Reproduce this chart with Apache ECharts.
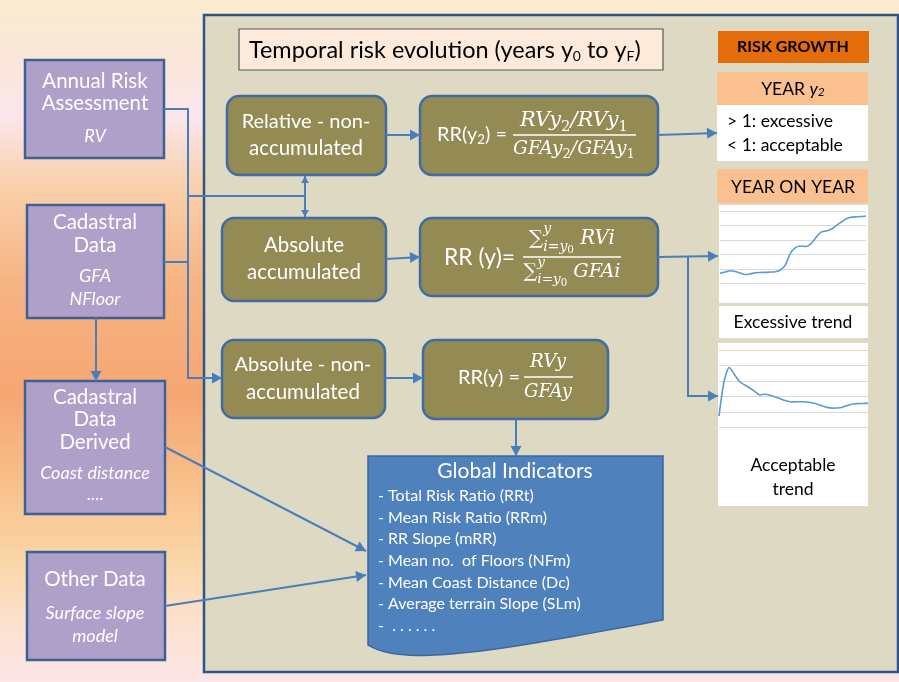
<!DOCTYPE html>
<html>
<head>
<meta charset="utf-8">
<script src="https://cdn.jsdelivr.net/npm/echarts@6/dist/echarts.min.js"></script>
<style>html,body{margin:0;padding:0;overflow:hidden;background:#fff}#chart{width:899px;height:682px}</style>
</head>
<body>
<div id="chart"></div>
<script>
// data (30 steps, gridlines at 1..6)
const steps = ['1','2','3','4','5','6','7','8','9','10','11','12','13','14','15','16','17','18','19','20','21','22','23','24','25','26','27','28','29','30']
const excessiveTrend = [1.70,1.79,1.88,1.83,1.72,1.62,1.66,1.74,1.76,1.77,1.79,1.81,1.93,2.28,3.10,3.48,3.59,3.55,3.72,4.14,4.53,4.62,4.72,4.97,5.21,5.45,5.57,5.60,5.62,5.66]
const acceptableTrend = [1.74,4.00,4.87,4.42,3.97,3.74,3.55,3.32,3.10,3.15,3.08,2.97,2.84,2.72,2.65,2.66,2.66,2.65,2.60,2.52,2.40,2.30,2.25,2.26,2.31,2.42,2.52,2.54,2.55,2.56]
const indicators = ['- Total Risk Ratio (RRt)', '- Mean Risk Ratio (RRm)', '- RR Slope (mRR)', '- Mean no.  of Floors (NFm)', '- Mean Coast Distance (Dc)', '- Average terrain Slope (SLm)', '-  . . . . . .']

const SANS = 'Lato, "Open Sans", sans-serif'
const SERIF = '"DejaVu Serif", serif'
const LINE = '#4A7EBB'
const BORDER = '#3C6195'

const mctx = document.createElement('canvas').getContext('2d')
const tw = (t, size, fam, it, b) => {
    mctx.font = (it ? 'italic ' : '') + (b ? 'bold ' : '') + size + 'px ' + fam
    return mctx.measureText(t).width
}

// lay runs of text side by side (for sub/superscripts)
function layout(runs, k, fam0) {
    let cx = 0, end = 0
    const out = []
    runs.forEach(r => {
        const size = (r.s || 18) * k, fam = r.f || fam0
        const w = tw(r.t, size, fam, r.i, r.b)
        out.push({ r, x: cx, size, fam })
        if (r.stay) end = Math.max(end, cx + w)
        else { cx += w; end = Math.max(end, cx) }
    })
    return { out, width: end }
}
function inline(x, y, runs, o) {
    o = o || {}
    const fam0 = o.f || SANS
    let L = layout(runs, 1, fam0)
    const k = o.w ? o.w / L.width : 1
    if (o.w) L = layout(runs, k, fam0)
    const x0 = o.align === 'center' ? x - L.width / 2 : x
    return L.out.map(p => ({
        type: 'text', z: 50,
        style: {
            text: p.r.t, x: x0 + p.x, y: y + (p.r.dy || 0) * k, fill: o.c || '#fff',
            font: (p.r.i ? 'italic ' : '') + (p.r.b ? 'bold ' : '') + p.size.toFixed(2) + 'px ' + p.fam,
            textAlign: 'left', textVerticalAlign: 'middle', align: 'left', verticalAlign: 'middle'
        }
    }))
}
function txt(x, y, t, size, o) {
    o = o || {}
    return {
        type: 'text', z: 50,
        style: {
            text: t, x, y, fill: o.c || '#fff',
            font: (o.i ? 'italic ' : '') + (o.b ? 'bold ' : '') + size + 'px ' + (o.f || SANS),
            textAlign: o.align || 'center', textVerticalAlign: 'middle', align: o.align || 'center', verticalAlign: 'middle'
        }
    }
}
function box(x, y, w, h, fill, o) {
    o = o || {}
    return {
        type: 'rect', z: o.z || 5,
        shape: { x, y, width: w, height: h, r: o.r || 0 },
        style: { fill, stroke: o.stroke || null, lineWidth: o.lw || 0 }
    }
}
function arrow(pts, o) {
    o = o || {}
    const hs = o.hs || 10
    const els = [{ type: 'polyline', z: 20, shape: { points: pts }, style: { stroke: LINE, lineWidth: 2, fill: null } }]
    const head = (a, b) => {
        const dx = b[0] - a[0], dy = b[1] - a[1], len = Math.hypot(dx, dy), ux = dx / len, uy = dy / len
        const bx = b[0] - ux * hs, by = b[1] - uy * hs, hw = hs * 0.55
        els.push({ type: 'polygon', z: 21, shape: { points: [b, [bx - uy * hw, by + ux * hw], [bx + uy * hw, by - ux * hw]] }, style: { fill: LINE } })
    }
    if (o.end !== false) head(pts[pts.length - 2], pts[pts.length - 1])
    if (o.start) head(pts[1], pts[0])
    return els
}
// document shape: flat top, wavy bottom
function docShape(x1, y1, x2, yR, yL) {
    const pts = [[x1, y1], [x2, y1], [x2, yR]]
    const p0 = [x2, yR], c1 = [500, yR + 30], c2 = [405, yL + 23], p3 = [x1, yL]
    for (let i = 1; i <= 24; i++) {
        const t = i / 24, u = 1 - t
        pts.push([
            u * u * u * p0[0] + 3 * u * u * t * c1[0] + 3 * u * t * t * c2[0] + t * t * t * p3[0],
            u * u * u * p0[1] + 3 * u * u * t * c1[1] + 3 * u * t * t * c2[1] + t * t * t * p3[1]
        ])
    }
    return { type: 'polygon', z: 5, shape: { points: pts }, style: { fill: '#4F81BD', stroke: '#3A679E', lineWidth: 1.5 } }
}

const purple = (x, y, w, h) => box(x, y, w, h, '#AFA0C9', { stroke: BORDER, lw: 2.5 })
const olive = (x, y, w, h) => box(x, y, w, h, '#948A54', { stroke: '#3E6CA3', lw: 2.5, r: 12 })

const elements = [
    {
        type: 'rect', z: -100, shape: { x: 0, y: 0, width: 899, height: 682 },
        style: {
            fill: {
                type: 'linear', x: 0, y: 0, x2: 0, y2: 1,
                colorStops: [
                    { offset: 0, color: '#FBEBCF' }, { offset: 0.1, color: '#FAE6DA' },
                    { offset: 0.17, color: '#FAE6EC' }, { offset: 0.27, color: '#F9D1AC' },
                    { offset: 0.42, color: '#F7B382' }, { offset: 0.58, color: '#F6A673' },
                    { offset: 0.7, color: '#F8BE88' }, { offset: 0.82, color: '#FAD6A6' },
                    { offset: 0.92, color: '#FCE2D0' }, { offset: 1, color: '#FCE5E6' }
                ]
            }
        }
    },
    box(204, 15, 694, 657, '#DDD9C3', { stroke: '#2F5587', lw: 2.5, z: -50 }),
    box(239, 29, 424, 41, '#FDEADA', { stroke: '#595959', lw: 1.2 }),
    ...inline(249, 50, [
        { t: 'Temporal risk evolution (years y', s: 22 },
        { t: '0', s: 13, dy: 6 },
        { t: ' to y', s: 22 },
        { t: 'F', s: 13, dy: 6 },
        { t: ')', s: 22 }
    ], { c: '#000', w: 392 }),

    // input boxes
    purple(25, 60, 139, 98),
    txt(95, 81, 'Annual Risk', 20.5), txt(95, 103, 'Assessment', 20.5), txt(95, 136, 'RV', 18, { i: true }),
    purple(27, 205, 137, 113),
    txt(95, 222, 'Cadastral', 20.5), txt(95, 245, 'Data', 20.5), txt(95, 276, 'GFA', 18, { i: true }), txt(95, 299, 'NFloor', 18, { i: true }),
    purple(25, 381, 140, 133),
    txt(95, 397, 'Cadastral', 20.5), txt(95, 419, 'Data', 20.5), txt(95, 442, 'Derived', 20.5),
    txt(95, 473, 'Coast distance', 18, { i: true }), txt(95, 494, '....', 18),
    purple(27, 552, 138, 108),
    txt(95, 579, 'Other Data', 20.5), txt(95, 613, 'Surface slope', 18, { i: true }), txt(95, 636, 'model', 18, { i: true }),

    // method boxes
    olive(227, 96, 159, 79),
    txt(306, 122, 'Relative - non-', 20), txt(306, 148, 'accumulated', 20.5),
    olive(222, 218, 164, 83),
    txt(304, 245, 'Absolute', 20.5), txt(304, 272, 'accumulated', 20.5),
    olive(222, 340, 163, 78),
    txt(303, 365, 'Absolute - non-', 20), txt(303, 392, 'accumulated', 20.5),

    // formula boxes
    olive(420, 96, 238, 79),
    ...inline(437, 135, [{ t: 'RR(y', s: 18 }, { t: '2', s: 12, dy: 4 }, { t: ') =', s: 18 }], { w: 70 }),
    ...inline(574, 121, [{ t: 'RVy', s: 17, i: true }, { t: '2', s: 12, dy: 5 }, { t: '/RVy', s: 17, i: true }, { t: '1', s: 12, dy: 5 }], { f: SERIF, align: 'center', w: 108 }),
    { type: 'line', z: 50, shape: { x1: 513, y1: 135, x2: 636, y2: 135 }, style: { stroke: '#fff', lineWidth: 1.5 } },
    ...inline(574, 149, [{ t: 'GFAy', s: 17, i: true }, { t: '2', s: 12, dy: 5 }, { t: '/GFAy', s: 17, i: true }, { t: '1', s: 12, dy: 5 }], { f: SERIF, align: 'center', w: 122 }),

    olive(420, 218, 238, 78),
    ...inline(444, 258, [{ t: 'RR (y)=', s: 18 }], { w: 71 }),
    ...inline(572, 239, [{ t: '\u2211', s: 17 }, { t: 'y', s: 12, i: true, dy: -8, stay: true }, { t: 'i=y', s: 12, i: true, dy: 7 }, { t: '0', s: 9, dy: 10 }, { t: ' RVi', s: 17, i: true }], { f: SERIF, align: 'center', w: 86 }),
    { type: 'line', z: 50, shape: { x1: 523, y1: 257, x2: 621, y2: 257 }, style: { stroke: '#fff', lineWidth: 1.5 } },
    ...inline(572, 272, [{ t: '\u2211', s: 17 }, { t: 'y', s: 12, i: true, dy: -8, stay: true }, { t: 'i=y', s: 12, i: true, dy: 7 }, { t: '0', s: 9, dy: 10 }, { t: ' GFAi', s: 17, i: true }], { f: SERIF, align: 'center', w: 97 }),

    olive(423, 340, 185, 79),
    ...inline(458, 378, [{ t: 'RR(y) =', s: 19 }], { w: 62 }),
    ...inline(548, 362, [{ t: 'RVy', s: 17, i: true }], { f: SERIF, align: 'center', w: 36 }),
    { type: 'line', z: 50, shape: { x1: 524, y1: 377, x2: 573, y2: 377 }, style: { stroke: '#fff', lineWidth: 1.5 } },
    ...inline(548, 392, [{ t: 'GFAy', s: 17, i: true }], { f: SERIF, align: 'center', w: 48 }),

    // global indicators
    docShape(368, 456, 663, 620, 645),
    txt(515, 471, 'Global Indicators', 21),
    ...indicators.map((t, i) => txt(378, 496 + i * 21.6, t, 16, { align: 'left' })),

    // risk growth column
    box(718, 31, 151, 32, '#E46C0A'),
    txt(793, 47, 'RISK GROWTH', 16, { c: '#000', b: true }),
    box(717, 72, 151, 33, '#FAC090'),
    ...inline(793, 89, [{ t: 'YEAR ', s: 17.5 }, { t: 'y', s: 17.5, i: true }, { t: '2', s: 12, i: true, dy: 3 }], { c: '#000', align: 'center' }),
    box(717, 105, 151, 56, '#FFFFFF'),
    txt(727, 121, '> 1: excessive', 17.5, { c: '#000', align: 'left' }),
    txt(727, 145, '< 1: acceptable', 17.5, { c: '#000', align: 'left' }),
    box(717, 169, 151, 34, '#FAC090'),
    txt(793, 187, 'YEAR ON YEAR', 17.5, { c: '#000' }),
    box(719, 205, 149, 98, '#FFFFFF', { z: -5 }),
    box(719, 306, 149, 32, '#FFFFFF'),
    txt(793, 322, 'Excessive trend', 17.5, { c: '#000' }),
    box(718, 343, 150, 163, '#FFFFFF', { z: -5 }),
    txt(793, 465, 'Acceptable', 17.5, { c: '#000' }),
    txt(793, 489, 'trend', 17.5, { c: '#000' }),

    // connectors
    ...arrow([[164, 109], [188, 109], [188, 378], [222, 378]]),
    ...arrow([[164, 262], [188, 262]], { end: false }),
    ...arrow([[188, 196], [305, 196]], { end: false }),
    ...arrow([[305, 176], [305, 217]], { start: true, hs: 7 }),
    ...arrow([[96, 318], [96, 381]]),
    ...arrow([[386, 135], [420, 135]]),
    ...arrow([[386, 259], [420, 257]]),
    ...arrow([[385, 378], [423, 378]]),
    ...arrow([[658, 135], [717, 133]]),
    ...arrow([[658, 257], [718, 256]]),
    ...arrow([[688, 257], [688, 396], [718, 396]]),
    ...arrow([[516, 419], [516, 456]]),
    ...arrow([[165, 447], [366, 551]]),
    ...arrow([[165, 606], [366, 575]])
]

const trendAxis = (gridIndex) => ({
    type: 'value', gridIndex, min: 1, max: 6, interval: 1,
    axisLabel: { show: false }, axisLine: { show: false }, axisTick: { show: false },
    splitLine: { lineStyle: { color: '#D9D9D9', width: 1 } }
})

const chart = echarts.init(document.getElementById('chart'))
chart.setOption({
    animation: false,
    graphic: { elements },
    grid: [
        { left: 720, top: 211, width: 146, height: 72.5 },
        { left: 719, top: 350, width: 149, height: 77.5 }
    ],
    xAxis: [
        { type: 'category', gridIndex: 0, data: steps, boundaryGap: false, show: false },
        { type: 'category', gridIndex: 1, data: steps, boundaryGap: false, show: false }
    ],
    yAxis: [trendAxis(0), trendAxis(1)],
    series: [
        { name: 'Excessive trend', type: 'line', xAxisIndex: 0, yAxisIndex: 0, data: excessiveTrend, showSymbol: false, smooth: 0.25, lineStyle: { color: '#5B9BD5', width: 1.6 }, z: 10 },
        { name: 'Acceptable trend', type: 'line', xAxisIndex: 1, yAxisIndex: 1, data: acceptableTrend, showSymbol: false, smooth: 0.25, lineStyle: { color: '#5B9BD5', width: 1.6 }, z: 10 }
    ]
})
</script>
</body>
</html>
